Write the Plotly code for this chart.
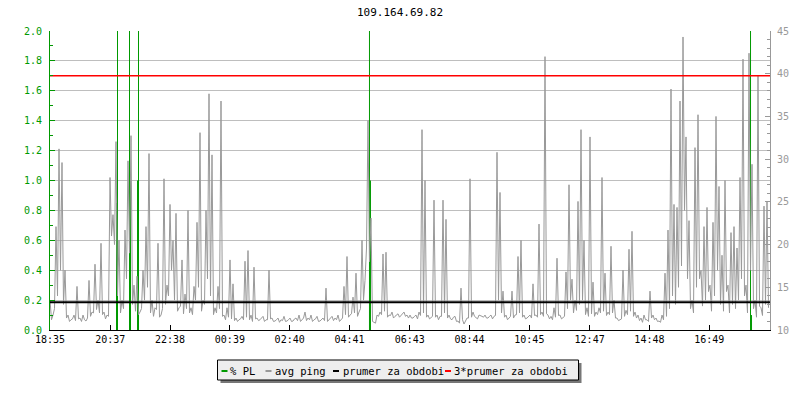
import plotly.graph_objects as go

# ---------------- data ----------------
TITLE = "109.164.69.82"
TIME_LABELS = ["18:35", "20:37", "22:38", "00:39", "02:40", "04:41",
               "06:43", "08:44", "10:45", "12:47", "14:48", "16:49"]
SPAN_MIN = 1457            # length of the shown period in minutes
N_SAMPLES = 240

# avg ping (ms): local peaks, consecutive samples
PING_MS_A = [13.5, 11.75, 22.1, 31.2, 29.6, 17.0, 11.75, 11.2, 11.75, 15.1,
             11.4, 11.75, 11.05, 15.8, 12.1, 17.7, 13.5, 20.15, 12.1, 11.75,
             27.85, 23.5, 32.05, 20.5, 13.5, 21.7, 29.8, 32.75, 15.25, 16.3,
             12.1, 17.0, 22.1, 30.65, 13.5, 12.6, 20.15, 11.75, 27.7, 15.25,
             24.7, 20.5, 23.65, 12.6, 18.2, 14.2, 24.0, 12.6, 15.1, 22.6,
             33.1, 13.5, 24.0, 37.65, 30.5, 12.6, 15.1, 36.8, 11.75, 12.6]
PING_MS_B = [18.2, 15.4, 11.4, 11.2, 11.6, 18.05, 19.3, 11.75, 17.35, 11.4,
             11.2, 11.6, 11.2, 17.0, 11.4, 11.05, 11.4, 11.2, 11.6, 11.05,
             11.4, 11.05, 11.4, 11.75, 11.2, 12.1, 11.4, 11.75, 11.2, 11.6,
             11.05, 11.4, 14.9, 11.2, 11.6, 11.4, 11.75, 11.2, 15.1, 18.6,
             11.75, 13.85, 16.65, 12.1, 20.5, 15.8, 34.5, 23.1, 10.9, 11.75,
             12.1, 18.9, 19.1, 11.75, 12.1, 11.6, 11.9, 11.75, 12.1, 11.75]
PING_MS_C = [11.75, 11.4, 11.75, 12.1, 33.45, 27.5, 11.75, 11.4, 25.2, 11.75,
             11.6, 25.2, 22.95, 11.75, 11.2, 11.6, 11.05, 14.9, 10.7, 11.4,
             27.7, 12.1, 11.4, 11.75, 11.6, 11.75, 11.4, 11.75, 11.6, 30.8,
             26.1, 14.55, 11.75, 11.4, 14.55, 11.75, 18.6, 20.5, 11.75, 11.4,
             11.75, 15.4, 11.75, 22.4, 12.1, 42.0, 11.75, 11.6, 12.6, 18.4,
             11.75, 11.4, 16.8, 27.0, 15.95, 13.5, 25.05, 33.45, 20.5, 12.6]
PING_MS_D = [32.6, 15.6, 12.1, 12.6, 27.85, 16.65, 12.1, 19.8, 13.5, 11.4,
             11.2, 17.0, 12.3, 19.45, 21.55, 12.1, 11.75, 11.4, 11.75, 11.2,
             14.55, 11.75, 11.4, 11.05, 11.75, 16.65, 21.7, 38.2, 24.7, 24.35,
             36.8, 44.3, 32.6, 22.8, 13.5, 31.35, 35.2, 17.0, 22.1, 24.35,
             15.25, 22.6, 35.0, 26.8, 18.75, 27.5, 15.25, 21.4, 22.1, 19.6,
             27.85, 41.7, 15.25, 42.4, 29.4, 13.5, 39.75, 12.6, 24.5, 25.05]

# avg ping (ms): local troughs between consecutive peak samples
TROUGH_MS_A = [11.2, 12.5, 14.0, 17.0, 13.0, 11.4, 11.0, 11.3, 11.1, 11.3,
               11.0, 11.2, 11.4, 11.6, 12.0, 12.4, 12.0, 11.8, 11.3, 11.6,
               21.0, 20.0, 14.0, 12.0, 12.5, 16.0, 19.0, 13.0, 12.2, 11.8,
               12.5, 13.5, 15.0, 12.0, 11.6, 12.4, 11.5, 12.5, 13.0, 14.0,
               17.0, 13.5, 12.2, 12.8, 11.9, 12.5, 12.0, 11.8, 13.5, 15.0,
               12.2, 13.0, 16.0, 14.0, 11.8, 12.0, 12.5, 11.6, 11.2, 11.5]
TROUGH_MS_B = [11.3, 11.1, 11.0, 11.3, 11.2, 11.5, 11.2, 11.0, 11.3, 11.1,
               11.4, 11.0, 11.2, 11.3, 11.0, 11.2, 10.9, 11.1, 11.0, 11.2,
               11.0, 11.3, 11.1, 11.0, 11.4, 11.1, 11.2, 11.0, 11.3, 11.0,
               11.2, 11.1, 11.0, 11.3, 11.1, 11.2, 11.0, 11.4, 11.8, 11.5,
               11.9, 12.0, 11.6, 12.5, 13.5, 19.6, 18.0, 11.0, 10.8, 11.6,
               11.8, 12.2, 11.5, 11.7, 11.4, 11.8, 11.5, 11.9, 11.6, 11.4]
TROUGH_MS_C = [11.4, 11.6, 11.3, 11.7, 12.0, 11.5, 11.3, 11.6, 11.5, 11.2,
               11.6, 12.0, 11.4, 11.3, 11.5, 11.0, 10.8, 11.2, 11.1, 11.4,
               11.5, 11.6, 11.3, 11.7, 11.5, 11.4, 11.6, 11.3, 11.7, 13.5,
               12.0, 11.5, 11.2, 11.6, 11.4, 11.8, 12.0, 11.5, 11.3, 11.6,
               11.4, 11.7, 11.5, 11.8, 11.6, 11.9, 11.3, 11.2, 11.5, 11.7,
               11.3, 11.6, 12.5, 13.5, 12.0, 12.3, 13.0, 13.5, 11.8, 11.6]
TROUGH_MS_D = [11.9, 11.6, 11.8, 12.0, 12.2, 11.7, 11.8, 12.0, 11.4, 11.1,
               11.3, 11.6, 11.8, 12.2, 11.6, 11.4, 11.1, 10.9, 11.2, 11.0,
               11.4, 11.2, 11.0, 10.9, 11.2, 11.6, 12.5, 14.0, 13.0, 15.0,
               17.5, 24.0, 16.0, 12.5, 12.0, 15.0, 16.0, 12.8, 13.5, 14.5,
               12.2, 14.0, 17.0, 13.0, 12.2, 14.5, 12.0, 13.0, 12.5, 13.5,
               16.0, 14.0, 12.0, 17.0, 12.5, 11.5, 12.8, 11.7, 13.0, 12.6]

# packet loss events: minute offset from start, % lost
PL_TIMES_MIN = [134.6, 136.6, 160.9, 162.9, 177.1, 179.1, 646.5, 648.5, 1417.6, 1419.6]
PL_PERCENT = [0.85, 3.0, 3.0, 1.0, 1.0, 3.0, 3.0, 1.0, 3.0, 0.1]

MEAN_PING_MS = 13.25
SERIES_NAMES = ["% PL", "avg ping", "prumer za obdobi", "3*prumer za obdobi"]

# ---------------- styles ----------------
GREEN = "#009900"
GRAY = "#999999"
RED = "#ff0000"
BLACK = "#000000"
MONO = "DejaVu Sans Mono"
W, H = 800, 400
ML, MR, MT, MB = 50, 30, 31, 70

peaks = PING_MS_A + PING_MS_B + PING_MS_C + PING_MS_D
troughs = TROUGH_MS_A + TROUGH_MS_B + TROUGH_MS_C + TROUGH_MS_D
step = SPAN_MIN / N_SAMPLES
ping_t, ping = [], []
for i, (p, q) in enumerate(zip(peaks, troughs)):
    ping_t += [i * step, (i + 0.5) * step]
    ping += [p, q]

def label_to_min(s):
    h, m = map(int, s.split(":"))
    return ((h * 60 + m) - (18 * 60 + 35)) % 1440

tick_vals = [label_to_min(s) for s in TIME_LABELS]

pl_x, pl_y = [], []
for t, v in zip(PL_TIMES_MIN, PL_PERCENT):
    pl_x += [t, t, None]
    pl_y += [0, min(v, 2.0), None]   # values above the axis top are drawn to the top edge

fig = go.Figure()
fig.add_trace(go.Scatter(x=pl_x, y=pl_y, mode="lines", name=SERIES_NAMES[0],
                         line=dict(color=GREEN, width=1), yaxis="y", connectgaps=False))
fig.add_trace(go.Scatter(x=ping_t, y=ping, mode="lines", name=SERIES_NAMES[1],
                         line=dict(color=GRAY, width=1), yaxis="y2"))
fig.add_trace(go.Scatter(x=[0, SPAN_MIN], y=[MEAN_PING_MS] * 2, mode="lines",
                         name=SERIES_NAMES[2], line=dict(color=BLACK, width=2), yaxis="y2"))
fig.add_trace(go.Scatter(x=[0, SPAN_MIN], y=[3 * MEAN_PING_MS] * 2, mode="lines",
                         name=SERIES_NAMES[3], line=dict(color=RED, width=1.5), yaxis="y2"))

# pixel -> paper helpers (plot area 50..770 x 31..330)
def px(xp):
    return (xp - ML) / (W - ML - MR)
def py(yp):
    return (H - MB - yp) / (H - MT - MB)

shapes = [
    dict(type="rect", xref="paper", yref="paper", x0=px(220.5), x1=px(581.5),
         y0=py(363), y1=py(383), fillcolor="#777777", line=dict(width=0), layer="above"),
    dict(type="rect", xref="paper", yref="paper", x0=px(217.5), x1=px(578.5),
         y0=py(360), y1=py(380), fillcolor="#eeeeee", line=dict(color=BLACK, width=1), layer="above"),
]
annotations = []
leg_items = [(221.5, 228, GREEN), (265.5, 273, GRAY), (333, 341, BLACK), (445, 452, RED)]
for (lx, tx, col), name in zip(leg_items, SERIES_NAMES):
    shapes.append(dict(type="line", xref="paper", yref="paper", x0=px(lx), x1=px(lx + 6),
                       y0=py(371), y1=py(371), line=dict(color=col, width=2), layer="above"))
    annotations.append(dict(text=name, xref="paper", yref="paper", x=px(tx), y=py(370.5),
                            xanchor="left", yanchor="middle", showarrow=False,
                            font=dict(family=MONO, size=10.5, color=BLACK)))

fig.update_layout(
    width=W, height=H, margin=dict(l=ML, r=MR, t=MT, b=MB, autoexpand=False),
    paper_bgcolor="white", plot_bgcolor="white", showlegend=False,
    title=dict(text=TITLE, x=0.5, xanchor="center", y=1 - 12 / H,
               yanchor="middle", font=dict(family=MONO, size=11, color=BLACK)),
    xaxis=dict(range=[0, SPAN_MIN], tickvals=tick_vals, ticktext=TIME_LABELS,
               ticks="inside", ticklen=5, tickcolor=BLACK, showgrid=False, zeroline=False,
               showline=True, linecolor=BLACK, linewidth=1, automargin=False,
               tickfont=dict(family=MONO, size=10, color=BLACK)),
    yaxis=dict(range=[0, 2], dtick=0.2, tickformat=".1f", ticks="inside", ticklen=5,
               tickcolor=GREEN, showline=True, linecolor=GREEN, linewidth=1,
               gridcolor="#bebebe", gridwidth=1, zeroline=False, automargin=False,
               ticklabelstandoff=5,
               minor=dict(dtick=0.1, ticks="inside", ticklen=3, tickcolor=GREEN, showgrid=False),
               tickfont=dict(family=MONO, size=10, color=GREEN)),
    yaxis2=dict(range=[10, 45], dtick=5, overlaying="y", side="right", ticks="inside",
                ticklen=5, tickcolor=GRAY, showline=True, linecolor=GRAY, linewidth=1,
                showgrid=False, zeroline=False, automargin=False, ticklabelstandoff=4,
                minor=dict(dtick=1, ticks="inside", ticklen=3, tickcolor=GRAY, showgrid=False),
                tickfont=dict(family=MONO, size=10, color=GRAY)),
    shapes=shapes, annotations=annotations,
)

fig.write_html("out.html", config={"displayModeBar": False},
               post_script="document.body.style.margin='0px';")
